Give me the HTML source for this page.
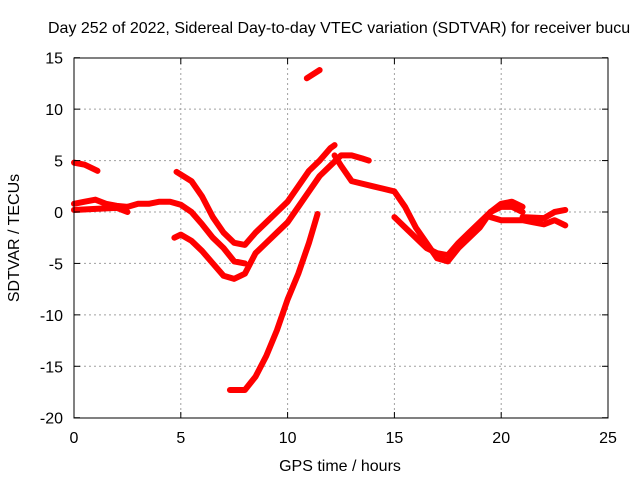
<!DOCTYPE html>
<html><head><meta charset="utf-8"><style>
body{margin:0;background:#fff;}
svg{display:block;font-family:"Liberation Sans",sans-serif;}
</style></head><body>
<svg id="chart" width="640" height="480">
<rect x="0" y="0" width="640" height="480" fill="#fff"/>
<text x="48" y="33" font-size="16" fill="#000">Day 252 of 2022, Sidereal Day-to-day VTEC variation (SDTVAR) for receiver bucu</text>
<g id="grid"></g>
<g id="marks"></g>
<rect x="74" y="58" width="534" height="360" fill="none" stroke="#000" stroke-width="1"/>
<g id="ticks"></g>
<text x="340" y="471" font-size="16" text-anchor="middle">GPS time / hours</text>
<text transform="translate(19,238) rotate(-90)" font-size="16" text-anchor="middle">SDTVAR / TECUs</text>
</svg>
<script>
const xTicks=[0,5,10,15,20,25];
const yTicks=[15,10,5,0,-5,-10,-15,-20];
const trackA=[[0,4.8],[0.5,4.6],[1.1,4.0]];
const trackB=[[0,0.8],[0.5,1],[1,1.2],[1.5,0.8],[2,0.6],[2.5,0.5]];
const trackC=[[0,0.2],[1,0.3],[2,0.4],[2.5,0]];
const trackD=[[2.5,0.5],[3,0.8],[3.5,0.8],[4,1],[4.5,1],[5,0.7],[5.5,0],[6,-1.2],[6.5,-2.5],[7,-3.5],[7.5,-4.8],[8,-5]];
const trackE=[[4.8,3.9],[5.5,3],[6,1.5],[6.5,-0.5],[7,-2],[7.5,-3],[8,-3.2],[8.5,-2],[9,-1],[9.5,0],[10,1],[10.5,2.5],[11,4],[11.5,5],[12,6.2],[12.2,6.5]];
const trackF=[[4.7,-2.5],[5,-2.2],[5.5,-2.8],[6,-3.8],[6.5,-5],[7,-6.2],[7.5,-6.5],[8,-6],[8.5,-4],[9,-3],[9.5,-2],[10,-1],[10.5,0.5],[11,2],[11.5,3.5],[12,4.5],[12.5,5.5],[13,5.5],[13.5,5.2],[13.8,5]];
const trackG=[[7.3,-17.3],[8,-17.3],[8.5,-16],[9,-14],[9.5,-11.5],[10,-8.5],[10.5,-6],[11,-3],[11.4,-0.2]];
const trackH=[[10.9,13],[11.5,13.8]];
const trackI=[[12.2,5.5],[12.5,4.5],[13,3],[14,2.5],[15,2],[15.5,0.5],[16,-1.5],[16.5,-3],[17,-4.5],[17.5,-4.8],[18,-3.5],[19,-1.5],[19.5,0],[20,0.8],[20.5,1],[21,0.5]];
const trackJ=[[15,-0.5],[15.5,-1.5],[16,-2.5],[16.5,-3.5],[17,-4],[17.5,-4.2],[18,-3],[18.5,-2],[19,-1],[19.5,0],[20,0.5],[20.5,0.5],[21,0]];
const trackK=[[19.5,-0.5],[20,-0.8],[21,-0.8],[21.5,-1],[22,-1.2],[22.5,-0.8],[23,-1.3]];
const trackL=[[21,-0.5],[22,-0.6],[22.5,0],[23,0.2]];
const tracks=[trackA,trackB,trackC,trackD,trackE,trackF,trackG,trackH,trackI,trackJ,trackK,trackL];

const X=v=>74+v*(534/25);
const Y=v=>212-v*(360/35);
const NS="http://www.w3.org/2000/svg";
const grid=document.getElementById('grid'),ticks=document.getElementById('ticks'),marks=document.getElementById('marks');
function mk(t,a,p){const e=document.createElementNS(NS,t);for(const k in a)e.setAttribute(k,a[k]);p.appendChild(e);return e;}
xTicks.forEach(t=>{
  if(t>0&&t<25){const g=mk('line',{x1:X(t),x2:X(t),y1:58,y2:418,stroke:'#a0a0a0','stroke-dasharray':'2,3'},grid);
  
  }
  mk('line',{x1:X(t),x2:X(t),y1:418,y2:412,stroke:'#000'},ticks);
  mk('line',{x1:X(t),x2:X(t),y1:58,y2:64,stroke:'#000'},ticks);
  const l=mk('text',{x:X(t),y:443,'font-size':16,'text-anchor':'middle'},ticks);l.textContent=t;
  
  
});
yTicks.forEach(t=>{
  if(t<15&&t>-20){const g=mk('line',{x1:74,x2:608,y1:Y(t),y2:Y(t),stroke:'#a0a0a0','stroke-dasharray':'2,3'},grid);
  
  }
  mk('line',{x1:74,x2:80,y1:Y(t),y2:Y(t),stroke:'#000'},ticks);
  mk('line',{x1:608,x2:602,y1:Y(t),y2:Y(t),stroke:'#000'},ticks);
  const l=mk('text',{x:63,y:Y(t)+6,'font-size':16,'text-anchor':'end'},ticks);l.textContent=t;
  
  
});
tracks.forEach(tr=>{
  const p=mk('polyline',{points:tr.map(d=>X(d[0])+','+Y(d[1])).join(' '),fill:'none',stroke:'#ff0000','stroke-width':6,'stroke-linejoin':'round','stroke-linecap':'round'},marks);
  
  
});
</script>
</body></html>
